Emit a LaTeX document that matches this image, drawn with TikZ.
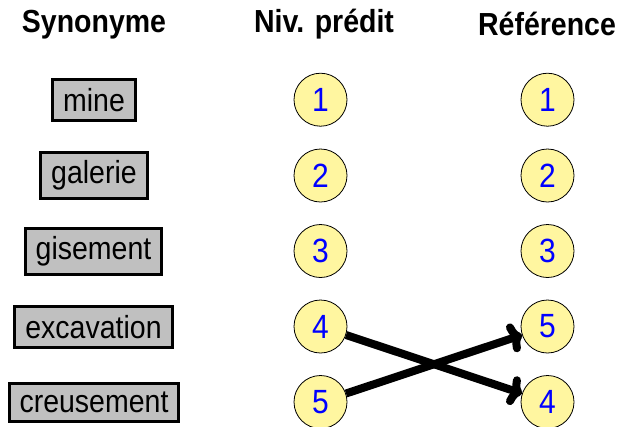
\documentclass[tikz,border=0pt]{standalone}
\usepackage{fontspec}
\usepackage{graphicx}
\setmainfont{Liberation Sans}
\usetikzlibrary{arrows.meta}
\newcommand\talltxt[1]{\scalebox{1}[1.12]{#1}}
\begin{document}
\begin{tikzpicture}[x=1pt,y=-1pt,
  hdr/.style={font=\fontsize{28.5}{30}\selectfont\bfseries, anchor=base, inner sep=0pt},
  syn/.style={draw=black, line width=3pt, fill={rgb,255:red,192;green,192;blue,192},
    font=\fontsize{28.5}{30}\selectfont, inner xsep=10.5pt, inner ysep=8.5pt},
  lvl/.style={circle, draw=black, line width=0.8pt, fill={rgb,255:red,255;green,246;blue,160},
    minimum size=53pt, inner sep=0pt, text={rgb,255:red,0;green,0;blue,255},
    font=\fontsize{30}{30}\selectfont},
  arr/.style={line width=8pt, -{To[round,length=13pt,width=30pt]}}
]
\useasboundingbox (0,0) rectangle (620,426);
% headers
\node[hdr] (h1) at (94,32) {\talltxt{Synonyme}};
\node[hdr] (h2) at (324,32) {\talltxt{Niv. prédit}};
\node[hdr] (h3) at (547,35.5) {\talltxt{Référence}};
% synonyms
\node[syn] (s1) at (94,100) {\talltxt{mine}};
\node[syn] (s2) at (94,175.5) {\talltxt{galerie}};
\node[syn] (s3) at (93.5,251.5) {\talltxt{gisement}};
\node[syn] (s4) at (93.5,327) {\talltxt{excavation}};
\node[syn] (s5) at (94,402.5) {\talltxt{creusement}};
% predicted levels
\node[lvl] (p1) at (320.5,99.7) {\talltxt{1}};
\node[lvl] (p2) at (320.5,175.5) {\talltxt{2}};
\node[lvl] (p3) at (320.5,251) {\talltxt{3}};
\node[lvl] (p4) at (320.5,326.5) {\talltxt{4}};
\node[lvl] (p5) at (320.5,402) {\talltxt{5}};
% reference levels
\node[lvl] (r1) at (547.5,99.7) {\talltxt{1}};
\node[lvl] (r2) at (547.5,175.5) {\talltxt{2}};
\node[lvl] (r3) at (547.5,251) {\talltxt{3}};
\node[lvl] (r4) at (547.5,326.5) {\talltxt{5}};
\node[lvl] (r5) at (547.5,402) {\talltxt{4}};
% arrows
\draw[arr] (p4) -- (r5);
\draw[arr] (p5) -- (r4);
\end{tikzpicture}
\end{document}
